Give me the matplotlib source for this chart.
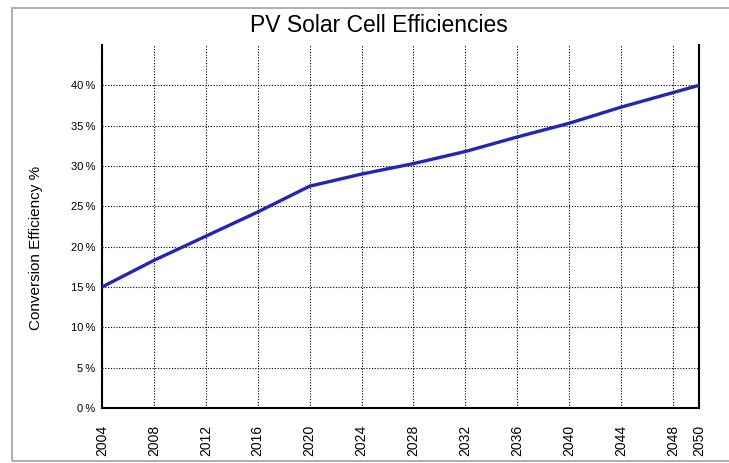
import matplotlib.pyplot as plt
from matplotlib.patches import Rectangle

plt.rcParams['font.family'] = ['Liberation Sans', 'DejaVu Sans']

# values
years = [2004, 2008, 2012, 2016, 2020, 2024, 2028, 2032, 2036, 2040, 2044, 2048, 2050]
efficiency = [15.0, 18.3, 21.3, 24.3, 27.5, 29.0, 30.3, 31.8, 33.6, 35.3, 37.3, 39.1, 40.0]
x_ticks = [2004, 2008, 2012, 2016, 2020, 2024, 2028, 2032, 2036, 2040, 2044, 2048, 2050]
y_ticks = [0, 5, 10, 15, 20, 25, 30, 35, 40]

fig = plt.figure(figsize=(7.29, 4.63), dpi=100)
ax = fig.add_axes([102 / 729, 1 - 408 / 463, 597 / 729, 363 / 463])

ax.plot(years, efficiency, color='#2424b8', lw=2.4, zorder=3)

ax.set_xlim(2004, 2050)
ax.set_ylim(0, 45)
ax.set_xticks(x_ticks)
ax.set_xticklabels([str(x) for x in x_ticks], rotation=90, fontsize=10)
ax.set_yticks(y_ticks)
ax.set_yticklabels([f"{y}\u2009%" for y in y_ticks], fontsize=8)
ax.tick_params(axis='x', length=0, pad=12)
ax.tick_params(axis='y', length=0, pad=5)
ax.grid(True, color='black', linestyle=(0, (1, 1.5)), lw=0.8)

for s in ['left', 'right', 'bottom']:
    ax.spines[s].set_linewidth(1.5)
ax.spines['top'].set_visible(False)

fig.text(36 / 729, 1 - 248 / 463, "Conversion Efficiency %", rotation=90,
         ha='center', va='center', fontsize=11)
fig.text(0.52, 1 - 25 / 463, "PV Solar Cell Efficiencies", ha='center', va='center', fontsize=16.5)

# grey frame around the whole picture
fig.patches.append(Rectangle((12 / 729, 2 / 463), 1.0, 453 / 463, transform=fig.transFigure,
                             fill=False, edgecolor='#a0a0a0', lw=1.2))

fig.savefig("out.png", dpi=100)
